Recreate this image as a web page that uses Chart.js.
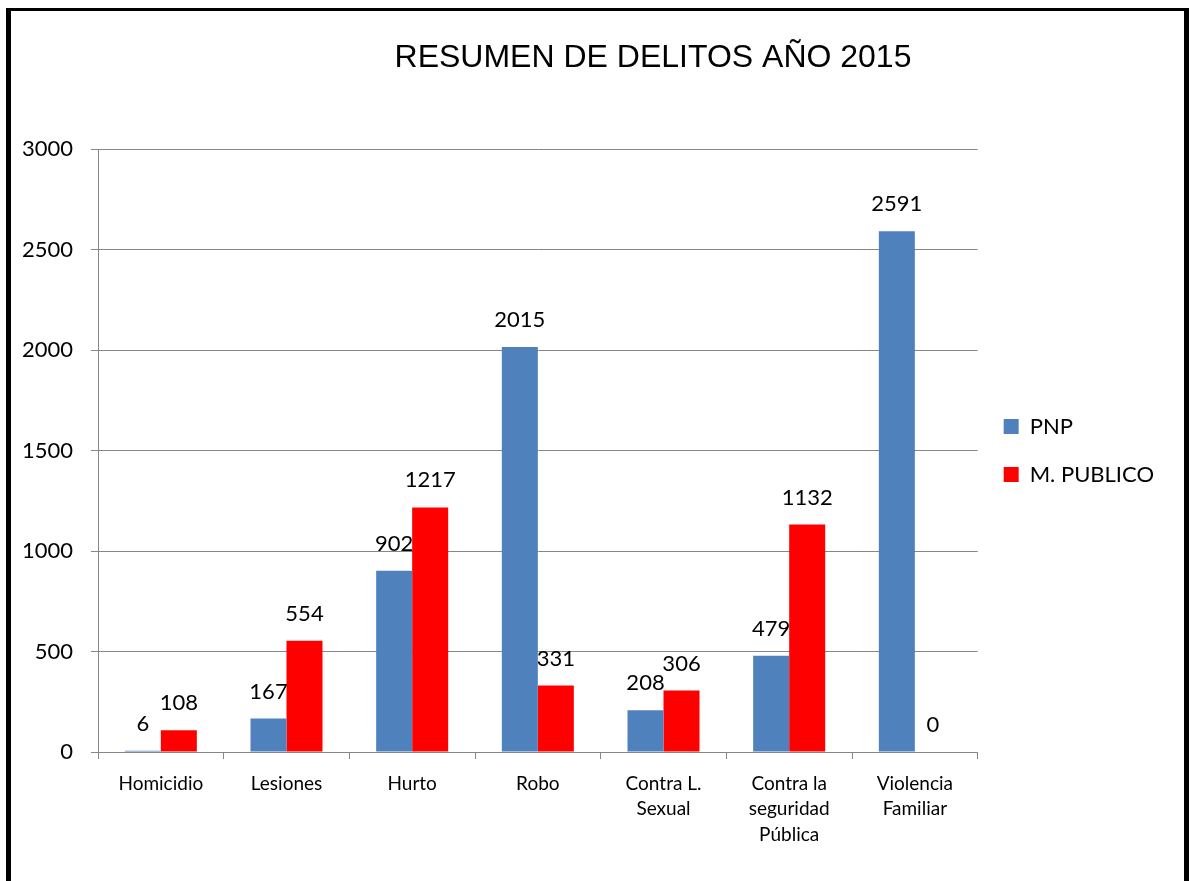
<!DOCTYPE html>
<html>
<head>
<meta charset="utf-8">
<script src="https://cdn.jsdelivr.net/npm/chart.js@4"></script>
<style>
  body { margin: 0; background: #fff; overflow: hidden; }
  #frame {
    position: absolute; left: 6px; top: 8px;
    width: 1173px; height: 900px;
    border-left: 5px solid #000; border-right: 5px solid #000; border-top: 3px solid #000;
  }
  #chart { display: block; }
</style>
</head>
<body>
<div id="frame"><canvas id="chart" width="1173" height="870"></canvas></div>
<script>
// data
var categories = ['Homicidio', 'Lesiones', 'Hurto', 'Robo', ['Contra L.', 'Sexual'], ['Contra la', 'seguridad', 'Pública'], ['Violencia', 'Familiar']];
var pnpValues = [6, 167, 902, 2015, 208, 479, 2591];
var publicoValues = [108, 554, 1217, 331, 306, 1132, 0];
var yTicks = [0, 500, 1000, 1500, 2000, 2500, 3000];
var chartTitle = 'RESUMEN DE DELITOS AÑO 2015';

var gridGrey = '#868686';

// title drawn over the chart, Excel puts it off-centre
var titlePlugin = {
    id: 'titleText',
    afterDraw: function (chart) {
        var ctx = chart.ctx;
        ctx.save();
        ctx.font = '32px "Liberation Sans", Arial, sans-serif';
        ctx.fillStyle = '#000';
        ctx.textAlign = 'center';
        ctx.textBaseline = 'alphabetic';
        ctx.fillText(chartTitle, 642, 56);
        ctx.restore();
    }
};

// value labels above each bar
var valueLabels = {
    id: 'valueLabels',
    afterDatasetsDraw: function (chart) {
        var ctx = chart.ctx;
        ctx.save();
        ctx.font = '22px Lato, sans-serif';
        ctx.fillStyle = '#000';
        ctx.textAlign = 'center';
        ctx.textBaseline = 'middle';
        chart.data.datasets.forEach(function (ds, i) {
            chart.getDatasetMeta(i).data.forEach(function (bar, j) {
                ctx.fillText(String(ds.data[j]), bar.x, bar.y - 27);
            });
        });
        ctx.restore();
    }
};

var ctx = document.getElementById('chart').getContext('2d');
var barChart = new Chart(ctx, {
    type: 'bar',
    data: {
        labels: categories,
        datasets: [{
            label: 'PNP',
            data: pnpValues,
            backgroundColor: '#4F81BD',
            borderWidth: 0
        }, {
            label: 'M. PUBLICO',
            data: publicoValues,
            backgroundColor: '#FF0000',
            borderWidth: 0
        }]
    },
    options: {
        responsive: false,
        animation: false,
        events: [],
        datasets: {
            bar: { categoryPercentage: 0.573, barPercentage: 1.0 }
        },
        layout: {
            padding: { top: 138, left: 0, right: 20, bottom: 0 }
        },
        scales: {
            x: {
                grid: { drawOnChartArea: false, color: gridGrey, tickLength: 7 },
                border: { color: gridGrey },
                ticks: {
                    color: '#000',
                    padding: 12,
                    maxRotation: 0,
                    font: { family: 'Lato', size: 19, lineHeight: 1.34 }
                },
                afterFit: function (scale) { scale.height = 129; }
            },
            y: {
                min: 0,
                max: 3000,
                afterBuildTicks: function (scale) {
                    scale.ticks = yTicks.map(function (v) { return { value: v }; });
                },
                grid: { color: gridGrey, tickLength: 7 },
                border: { color: gridGrey },
                ticks: {
                    color: '#000',
                    padding: 18,
                    font: { family: 'Lato', size: 22 },
                    callback: function (v) { return String(v); }
                },
                afterFit: function (scale) { scale.width = 87; }
            }
        },
        plugins: {
            legend: {
                position: 'right',
                fullSize: false,
                labels: {
                    boxWidth: 15,
                    boxHeight: 15,
                    padding: 26,
                    color: '#000',
                    font: { family: 'Lato', size: 22 }
                }
            },
            tooltip: { enabled: false }
        }
    },
    plugins: [titlePlugin, valueLabels]
});
</script>
</body>
</html>
